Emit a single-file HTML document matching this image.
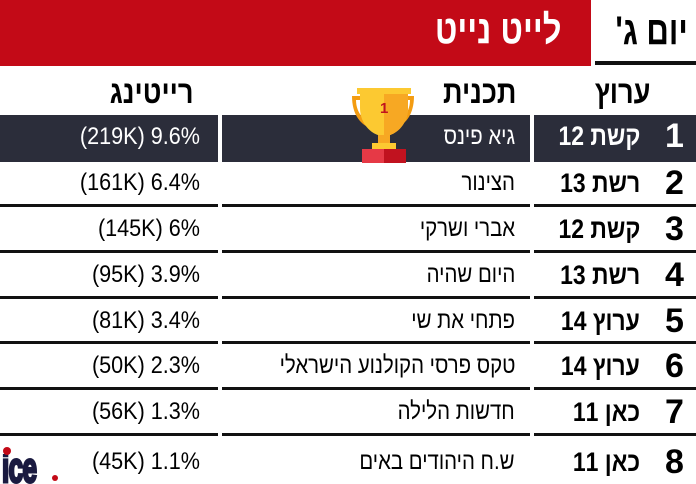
<!DOCTYPE html>
<html><head><meta charset="utf-8"><style>
body{margin:0;width:696px;height:484px;background:#fff;position:relative;overflow:hidden;font-family:"Liberation Sans","DejaVu Sans",sans-serif;}
.a{position:absolute;}
.red{left:0;top:0;width:591px;height:66px;background:#c30a17;}
.t1{right:134px;top:8px;color:#fff;font-size:40px;font-weight:bold;direction:rtl;transform:scaleX(0.82);transform-origin:right;white-space:nowrap;}
.t2{right:8px;top:9px;color:#000;font-size:40px;font-weight:bold;direction:rtl;transform:scaleX(0.78);transform-origin:right;white-space:nowrap;}
.ul{left:595px;top:61px;width:101px;height:4px;background:#111;}
.h{top:74px;font-size:32px;font-weight:bold;direction:rtl;transform:scaleX(0.85);transform-origin:right;white-space:nowrap;}
.dk{top:115px;height:47px;background:#2b2d3a;}
.c{font-size:24px;direction:rtl;transform:scaleX(0.85);transform-origin:right;white-space:nowrap;}
.r{font-size:24px;direction:ltr;text-align:right;width:220px;transform:scaleX(0.9);transform-origin:right;white-space:nowrap;}
.n{font-size:34px;font-weight:bold;}
.ch{font-size:27px;font-weight:bold;direction:rtl;white-space:nowrap;transform:scaleX(0.85);transform-origin:right;}
</style></head><body>
<div class="a red"></div>
<div class="a t1">לייט נייט</div>
<div class="a t2">יום ג'</div>
<div class="a ul"></div>
<div class="a h" style="right:46px">ערוץ</div>
<div class="a h" style="right:180px">תכנית</div>
<div class="a h" style="right:502px">רייטינג</div>
<div class="a dk" style="left:0;width:218px"></div>
<div class="a dk" style="left:222px;width:308px"></div>
<div class="a dk" style="left:534px;width:162px"></div>
<svg class="a" style="left:0;top:0" width="696" height="484">
<g fill="#111">
<rect x="0" y="204" width="218" height="3"/><rect x="222" y="204" width="308" height="3"/><rect x="534" y="204" width="162" height="3"/>
<rect x="0" y="250" width="218" height="3"/><rect x="222" y="250" width="308" height="3"/><rect x="534" y="250" width="162" height="3"/>
<rect x="0" y="296" width="218" height="3"/><rect x="222" y="296" width="308" height="3"/><rect x="534" y="296" width="162" height="3"/>
<rect x="0" y="341" width="218" height="3"/><rect x="222" y="341" width="308" height="3"/><rect x="534" y="341" width="162" height="3"/>
<rect x="0" y="387" width="218" height="3"/><rect x="222" y="387" width="308" height="3"/><rect x="534" y="387" width="162" height="3"/>
<rect x="0" y="433" width="218" height="3"/><rect x="222" y="433" width="308" height="3"/><rect x="534" y="433" width="162" height="3"/>
</g>
<path d="M352 96 h12 v4 h-8 c0 14 10 22 16 24 l-2 4 c-10-4-18-14-18-32z" fill="#f39c12"/>
<path d="M414 96 h-12 v4 h8 c0 14-10 22-16 24 l2 4 c10-4 18-14 18-32z" fill="#f39c12"/>
<path d="M360 92 h48 v16 c0 16-12 28-24 28 c-12 0-24-12-24-28z" fill="#fcc931"/>
<path d="M384 92 h24 v16 c0 16-12 28-24 28z" fill="#f7a823"/>
<rect x="357" y="88" width="54" height="6" fill="#fcc931"/>
<rect x="378" y="135" width="12" height="10" fill="#f7a823"/>
<rect x="372" y="143" width="24" height="6" fill="#fcc931"/>
<rect x="362" y="149" width="44" height="14" fill="#e63946"/>
<rect x="384" y="149" width="22" height="14" fill="#c1121f"/>
<text x="380" y="113" font-size="15" fill="#c1121f" font-family="Liberation Sans" font-weight="bold">1</text>
<g transform="translate(2,482) scale(0.62,1)">
<text x="0" y="0" font-size="42" font-weight="bold" fill="#1a1a40" stroke="#1a1a40" stroke-width="3" font-family="Liberation Sans" letter-spacing="-1">ice</text>
</g>
<rect x="2" y="446" width="9" height="8" fill="#fff"/>
<circle cx="7" cy="451" r="4" fill="#c30a17"/>
<circle cx="55" cy="478" r="3" fill="#c30a17"/>
</svg>
<div class="a n" style="left:665px;top:117px;color:#fff">1</div>
<div class="a ch" style="right:56px;top:121px;color:#fff">קשת 12</div>
<div class="a c" style="right:181px;top:123px;color:#fff">גיא פינס</div>
<div class="a r" style="right:496px;top:123px;color:#fff">(219K) 9.6%</div>

<div class="a n" style="left:665px;top:164px">2</div>
<div class="a ch" style="right:56px;top:168px">רשת 13</div>
<div class="a c" style="right:181px;top:169px">הצינור</div>
<div class="a r" style="right:496px;top:169px">(161K) 6.4%</div>

<div class="a n" style="left:665px;top:210px">3</div>
<div class="a ch" style="right:56px;top:214px">קשת 12</div>
<div class="a c" style="right:181px;top:215px">אברי ושרקי</div>
<div class="a r" style="right:496px;top:215px">(145K) 6%</div>

<div class="a n" style="left:665px;top:256px">4</div>
<div class="a ch" style="right:56px;top:260px">רשת 13</div>
<div class="a c" style="right:181px;top:261px">היום שהיה</div>
<div class="a r" style="right:496px;top:261px">(95K) 3.9%</div>

<div class="a n" style="left:665px;top:302px">5</div>
<div class="a ch" style="right:56px;top:306px">ערוץ 14</div>
<div class="a c" style="right:181px;top:307px">פתחי את שי</div>
<div class="a r" style="right:496px;top:307px">(81K) 3.4%</div>

<div class="a n" style="left:665px;top:347px">6</div>
<div class="a ch" style="right:56px;top:351px">ערוץ 14</div>
<div class="a c" style="right:181px;top:352px">טקס פרסי הקולנוע הישראלי</div>
<div class="a r" style="right:496px;top:352px">(50K) 2.3%</div>

<div class="a n" style="left:665px;top:393px">7</div>
<div class="a ch" style="right:56px;top:397px">כאן 11</div>
<div class="a c" style="right:181px;top:398px">חדשות הלילה</div>
<div class="a r" style="right:496px;top:398px">(56K) 1.3%</div>

<div class="a n" style="left:665px;top:443px">8</div>
<div class="a ch" style="right:56px;top:447px">כאן 11</div>
<div class="a c" style="right:181px;top:448px">ש.ח היהודים באים</div>
<div class="a r" style="right:496px;top:448px">(45K) 1.1%</div>
</body></html>
